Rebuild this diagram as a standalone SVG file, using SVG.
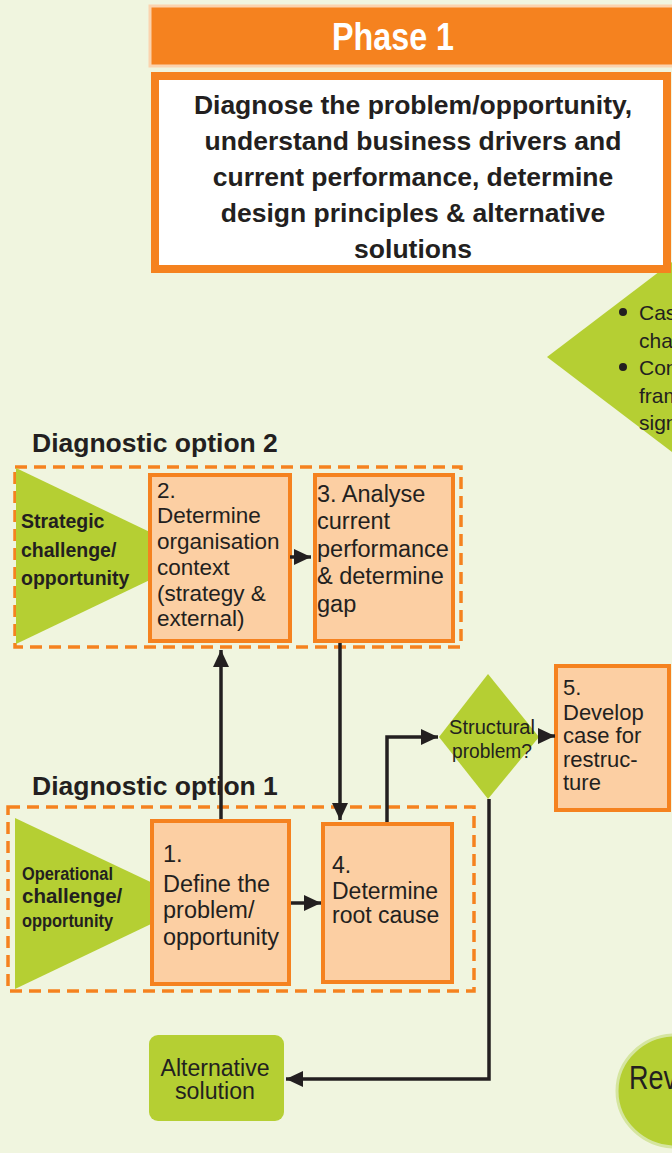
<svg xmlns="http://www.w3.org/2000/svg" width="672" height="1153" viewBox="0 0 672 1153">
  <defs>
    <style>
      .t { font-family: "Liberation Sans", Arial, sans-serif; fill: #231F20; }
      .b { font-weight: bold; }
      .box { fill: #FCCFA3; stroke: #F5821F; stroke-width: 4; }
      .dash { fill: none; stroke: #F5821F; stroke-width: 3.5; stroke-dasharray: 12 7; }
      .green { fill: #B5CF33; }
      .line { fill: none; stroke: #231F20; stroke-width: 3.5; }
    </style>
    <marker id="arr" markerUnits="userSpaceOnUse" markerWidth="17" markerHeight="16" refX="17" refY="8" orient="auto">
      <path d="M0,0 L17,8 L0,16 z" fill="#231F20"/>
    </marker>
  </defs>

  <!-- page background -->
  <rect width="672" height="1153" fill="#F0F5DF"/>

  <!-- green pointer with bullet list on the right -->
  <g id="bullets">
    <polygon class="green" points="547,357 672,262 672,452"/>
    <circle cx="623" cy="312" r="4" fill="#231F20"/>
    <circle cx="623" cy="367" r="4" fill="#231F20"/>
    <text class="t" x="639" y="320" font-size="21">Cas</text>
    <text class="t" x="639" y="348" font-size="21">cha</text>
    <text class="t" x="639" y="375" font-size="21">Con</text>
    <text class="t" x="639" y="403" font-size="21">fram</text>
    <text class="t" x="639" y="430" font-size="21">sign</text>
  </g>

  <!-- phase banner -->
  <g id="phase-header">
    <rect x="150" y="6" width="524" height="60" fill="#F5821F" stroke="#FBD3AE" stroke-width="3"/>
    <text class="t b" x="393" y="50" font-size="38" text-anchor="middle" textLength="122" lengthAdjust="spacingAndGlyphs" style="fill:#FFFFFF">Phase 1</text>
  </g>

  <g id="phase-summary">
    <rect x="155" y="76" width="512" height="193" fill="#FFFFFF" stroke="#F5821F" stroke-width="8"/>
    <g class="t b" font-size="26.5" text-anchor="middle">
      <text x="413" y="114">Diagnose the problem/opportunity,</text>
      <text x="413" y="150">understand business drivers and</text>
      <text x="413" y="186">current performance, determine</text>
      <text x="413" y="222">design principles &amp; alternative</text>
      <text x="413" y="258">solutions</text>
    </g>
  </g>

  <!-- diagnostic option 2 -->
  <g id="option2">
    <text class="t b" x="32" y="452" font-size="26.5">Diagnostic option 2</text>
    <rect class="dash" x="15" y="467" width="446" height="180"/>
  </g>

  <g id="strategic-challenge">
    <polygon class="green" points="16,468 16,644 200,556"/>
    <g class="t b" font-size="19.5">
      <text x="21" y="528">Strategic</text>
      <text x="21" y="557">challenge/</text>
      <text x="21" y="585">opportunity</text>
    </g>
  </g>

  <g id="step2">
    <rect class="box" x="150" y="475" width="140" height="166"/>
    <g class="t" font-size="22.5">
      <text x="157" y="498">2.</text>
      <text x="157" y="523">Determine</text>
      <text x="157" y="549">organisation</text>
      <text x="157" y="575">context</text>
      <text x="157" y="601">(strategy &amp;</text>
      <text x="157" y="626">external)</text>
    </g>
  </g>

  <g id="step3">
    <rect class="box" x="315" y="475" width="138" height="166"/>
    <g class="t" font-size="23.5">
      <text x="317" y="502">3. Analyse</text>
      <text x="317" y="529">current</text>
      <text x="317" y="557">performance</text>
      <text x="317" y="584">&amp; determine</text>
      <text x="317" y="612">gap</text>
    </g>
  </g>

  <!-- diagnostic option 1 -->
  <g id="option1">
    <text class="t b" x="32" y="795" font-size="26.5">Diagnostic option 1</text>
    <rect class="dash" x="8" y="807" width="466" height="184"/>
  </g>

  <g id="operational-challenge">
    <polygon class="green" points="15,818 15,989 195,903"/>
    <g class="t b">
      <text x="22" y="880" font-size="17.5" textLength="91" lengthAdjust="spacingAndGlyphs">Operational</text>
      <text x="22" y="903" font-size="20.5">challenge/</text>
      <text x="22" y="927" font-size="17.5" textLength="91" lengthAdjust="spacingAndGlyphs">opportunity</text>
    </g>
  </g>

  <g id="step1">
    <rect class="box" x="152" y="821" width="137" height="163"/>
    <g class="t" font-size="23.5">
      <text x="163" y="862">1.</text>
      <text x="163" y="892">Define the</text>
      <text x="163" y="918">problem/</text>
      <text x="163" y="945" textLength="116" lengthAdjust="spacingAndGlyphs">opportunity</text>
    </g>
  </g>

  <g id="step4">
    <rect class="box" x="323" y="824" width="129" height="158"/>
    <g class="t" font-size="23">
      <text x="332" y="873">4.</text>
      <text x="332" y="899">Determine</text>
      <text x="332" y="923">root cause</text>
    </g>
  </g>

  <g id="decision">
    <polygon class="green" points="439,737 488,674 539,737 488,799"/>
    <g class="t" font-size="20" text-anchor="middle">
      <text x="492" y="734" textLength="86" lengthAdjust="spacingAndGlyphs">Structural</text>
      <text x="492" y="758" textLength="80" lengthAdjust="spacingAndGlyphs">problem?</text>
    </g>
  </g>

  <g id="step5">
    <rect class="box" x="556" y="666" width="113" height="144"/>
    <g class="t" font-size="22">
      <text x="563" y="695">5.</text>
      <text x="563" y="720">Develop</text>
      <text x="563" y="743">case for</text>
      <text x="563" y="767">restruc-</text>
      <text x="563" y="790">ture</text>
    </g>
  </g>

  <g id="alternative">
    <rect class="green" x="149" y="1035" width="135" height="86" rx="9"/>
    <g class="t" font-size="23.5" text-anchor="middle">
      <text x="215" y="1076" textLength="109" lengthAdjust="spacingAndGlyphs">Alternative</text>
      <text x="215" y="1099" textLength="80" lengthAdjust="spacingAndGlyphs">solution</text>
    </g>
  </g>

  <g id="review">
    <ellipse cx="676" cy="1091" rx="59" ry="56" fill="#B5CF33" stroke="#D5E5A0" stroke-width="3"/>
    <text class="t" x="629" y="1089" font-size="34" textLength="48" lengthAdjust="spacingAndGlyphs">Rev</text>
  </g>

  <!-- connectors -->
  <g id="connectors">
    <path class="line" d="M290,557 L311,557" marker-end="url(#arr)"/>
    <path class="line" d="M221,819 L221,650" marker-end="url(#arr)"/>
    <path class="line" d="M340,643 L340,820" marker-end="url(#arr)"/>
    <path class="line" d="M291,903 L321,903" stroke-width="5" marker-end="url(#arr)"/>
    <path class="line" d="M387,822 L387,737 L438,737" marker-end="url(#arr)"/>
    <path class="line" d="M539,736 L555,736" marker-end="url(#arr)"/>
    <path class="line" d="M489,799 L489,1079 L286,1079" marker-end="url(#arr)"/>
  </g>
</svg>
